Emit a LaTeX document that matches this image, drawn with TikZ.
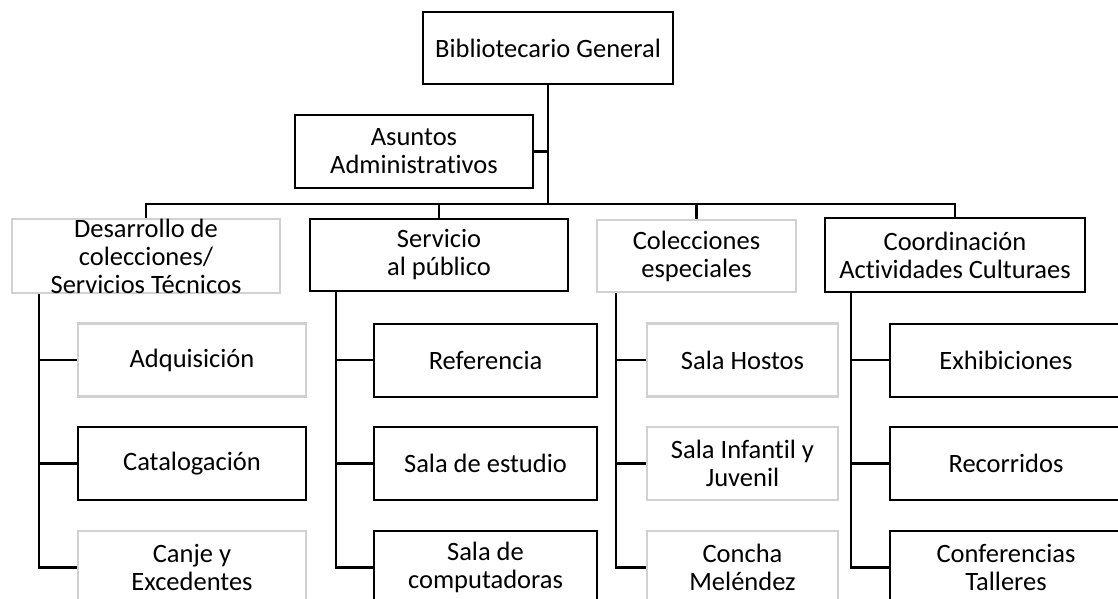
\documentclass[tikz,border=0pt]{standalone}
\usepackage{fontspec}
\setmainfont[Ligatures=NoCommon]{Carlito}
\usepackage{tikz}
\tikzset{
  unit/.style={draw=black, line width=2pt, fill=white, minimum height=73pt, inner sep=0pt, align=center, font=\fontsize{26.5}{28}\selectfont},
  unitgray/.style={unit, draw=black!18, line width=2.4pt},
  link/.style={draw=black, line width=2.3pt}
}

\begin{document}
\begin{tikzpicture}[x=1pt,y=-1pt]
\useasboundingbox (0,0) rectangle (1118,599);
\clip (0,0) rectangle (1118,599);
\node[unit, minimum width=250pt, minimum height=72pt] (gen) at (548,48) {Bibliotecario General};
\node[unit, minimum width=238pt] (adm) at (414,151.5) {Asuntos\\Administrativos};
\coordinate (bus) at (548,204);
\node[unitgray, minimum width=268pt, minimum height=72pt] (des) at (146,256) {Desarrollo de\\colecciones/\\Servicios T\'ecnicos};
\node[unit, minimum width=258pt, minimum height=72pt] (ser) at (439,255) {Servicio\\al p\'ublico};
\node[unitgray, minimum width=199pt, minimum height=72pt] (col) at (696.5,256) {Colecciones\\especiales};
\node[unit, minimum width=260pt, minimum height=74pt] (coo) at (955,255) {Coordinaci\'on\\Actividades Culturaes};
\node[unitgray, minimum width=228pt] (adq) at (192,360) {Adquisici\'on};
\node[unit, minimum width=228pt] (cat) at (192,463.5) {Catalogaci\'on};
\node[unitgray, minimum width=228pt] (can) at (192,567.5) {Canje y\\Excedentes};
\node[unit, minimum width=223pt] (ref) at (485.5,360) {Referencia};
\node[unit, minimum width=223pt] (est) at (485.5,463.5) {Sala de estudio};
\node[unit, minimum width=223pt] (com) at (485.5,567.5) {Sala de\\computadoras};
\node[unitgray, minimum width=191pt] (hos) at (742.5,360) {Sala Hostos};
\node[unitgray, minimum width=191pt] (inf) at (742.5,463.5) {Sala Infantil y\\Juvenil};
\node[unitgray, minimum width=191pt] (con) at (742.5,567.5) {Concha\\Mel\'endez};
\node[unit, minimum width=232pt] (exh) at (1006,360) {Exhibiciones};
\node[unit, minimum width=232pt] (rec) at (1006,463.5) {Recorridos};
\node[unit, minimum width=232pt] (cnf) at (1006,567.5) {Conferencias\\Talleres};
\draw[link] (gen) -- (bus);
\draw[link] (adm.east) -- (adm.east -| gen.south);
\draw[link] (des.north) |- (bus) -| (coo.north);
\draw[link] (ser.north) |- (bus);
\draw[link] (col.north) |- (bus);
\foreach \p/\s/\a/\b/\c in {des/28/adq/cat/can, ser/27/ref/est/com, col/20/hos/inf/con, coo/27/exh/rec/cnf}
{
  \coordinate (st) at ([xshift=\s pt]\p.south west);
  \draw[link] (st) |- (\c.west);
  \draw[link] (\a.west) -- (\a.west -| st);
  \draw[link] (\b.west) -- (\b.west -| st);
}
\end{tikzpicture}
\end{document}
